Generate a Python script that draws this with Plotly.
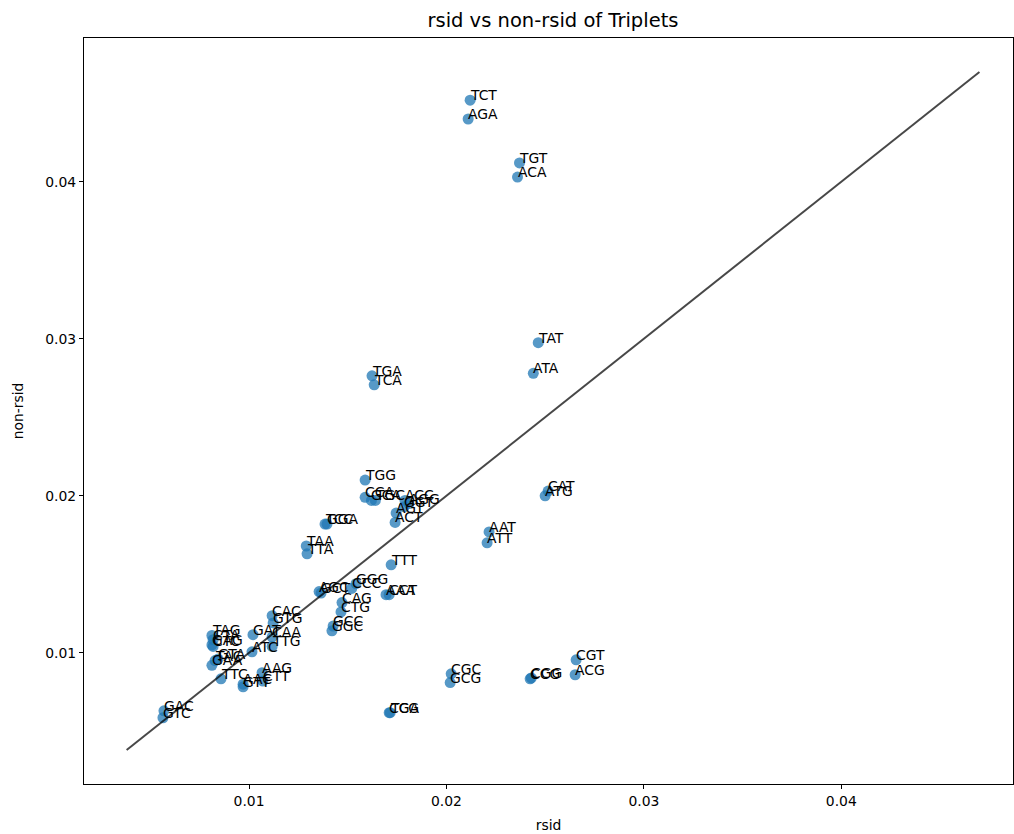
import plotly.graph_objects as go

triplets = ["TCT","AGA","TGT","ACA","TAT","ATA","TGA","TCA","TGG","CCA","GCA","TGC",
            "AGT","ACT","ACC","GGT","AGG","CAT","ATG","AAT","ATT","TTT","AAA","CCT",
            "TCC","GGA","TAA","TTA","AGC","GCT","GGG","CCC","CAG","CTG","GCC","GGC",
            "CGT","ACG","CGC","GCG","CGG","CCG","TCG","CGA","GAC","GTC","CAC","GTG",
            "GAT","ATC","CAA","TTG","AAG","CTT","AAC","GTT","TTC","TAG","CTA","GAG",
            "CTC","GTA","TAC","GAA"]
rsid = [0.0212,0.0211,0.0237,0.0236,0.02465,0.0244,0.01623,0.01634,0.01588,0.01588,0.0162,0.0164,
        0.01745,0.0174,0.0179,0.01786,0.0181,0.02515,0.0250,0.02216,0.02206,0.0172,0.01694,0.0171,
        0.01385,0.01395,0.0129,0.01294,0.01355,0.01365,0.01542,0.0152,0.01471,0.01466,0.01426,0.0142,
        0.02657,0.02652,0.02024,0.02019,0.0243,0.02424,0.01715,0.0171,0.00569,0.00564,0.01117,0.01122,
        0.0102,0.01015,0.01117,0.01117,0.01066,0.0107,0.0097,0.0097,0.00858,0.00812,0.00818,0.00812,
        0.00818,0.00843,0.00828,0.00812]
non_rsid = [0.0452,0.0440,0.0412,0.0403,0.02975,0.0278,0.02764,0.02707,0.0210,0.0199,0.0197,0.0197,
            0.0189,0.0183,0.0197,0.0193,0.0195,0.0203,0.0200,0.0177,0.0170,0.0156,0.0137,0.0137,
            0.0182,0.0182,0.0168,0.0163,0.0139,0.0138,0.0144,0.0141,0.0132,0.0126,0.0117,0.0114,
            0.00955,0.0086,0.00866,0.0081,0.0084,0.00834,0.00618,0.00618,0.0063,0.00586,0.01236,0.0119,
            0.01115,0.01006,0.0110,0.0104,0.00873,0.0082,0.0080,0.00783,0.00834,0.0111,0.01083,0.0105,
            0.0104,0.0096,0.0095,0.0092]

diag = [0.0038, 0.0470]
x_ticks = [0.01, 0.02, 0.03, 0.04]
y_ticks = [0.01, 0.02, 0.03, 0.04]

fig = go.Figure()
fig.add_trace(go.Scatter(x=rsid, y=non_rsid, mode="markers",
                         marker=dict(color="#1f77b4", size=11, opacity=0.75, line=dict(width=0)),
                         showlegend=False, hoverinfo="skip"))
fig.add_trace(go.Scatter(x=diag, y=diag, mode="lines",
                         line=dict(color="rgba(0,0,0,0.72)", width=2),
                         showlegend=False, hoverinfo="skip"))
for lab, xv, yv in zip(triplets, rsid, non_rsid):
    fig.add_annotation(x=xv, y=yv, text=lab, showarrow=False,
                       xanchor="left", yanchor="bottom", xshift=-1, yshift=-4,
                       borderpad=0,
                       font=dict(family="DejaVu Sans", size=13.9, color="black"))

axis_common = dict(showgrid=False, zeroline=False, showline=True, mirror=True,
                   linecolor="black", linewidth=1, ticks="outside", ticklen=4,
                   tickcolor="black", automargin=False,
                   tickfont=dict(family="DejaVu Sans", size=13.9, color="black"))
fig.update_xaxes(range=[0.00164, 0.0487], tickvals=x_ticks, ticktext=["0.01","0.02","0.03","0.04"],
                 title=dict(text="rsid", font=dict(family="DejaVu Sans", size=13.9, color="black"), standoff=12),
                 **axis_common)
fig.update_yaxes(range=[0.00164, 0.04916], tickvals=y_ticks, ticktext=["0.01","0.02","0.03","0.04"],
                 title=dict(text="non-rsid", font=dict(family="DejaVu Sans", size=13.9, color="black"), standoff=18),
                 **axis_common)
fig.update_layout(width=1014, height=834,
                  margin=dict(l=84, r=1, t=38, b=50, autoexpand=False),
                  paper_bgcolor="white", plot_bgcolor="white",
                  title=dict(text="rsid vs non-rsid of Triplets", xref="paper", x=0.5048, xanchor="center",
                             y=1 - 20/834, yanchor="middle",
                             font=dict(family="DejaVu Sans", size=19.5, color="black")))
fig.write_html("out.html", config={"displayModeBar": False},
               post_script="document.body.style.margin='0';document.body.style.overflow='hidden';")
